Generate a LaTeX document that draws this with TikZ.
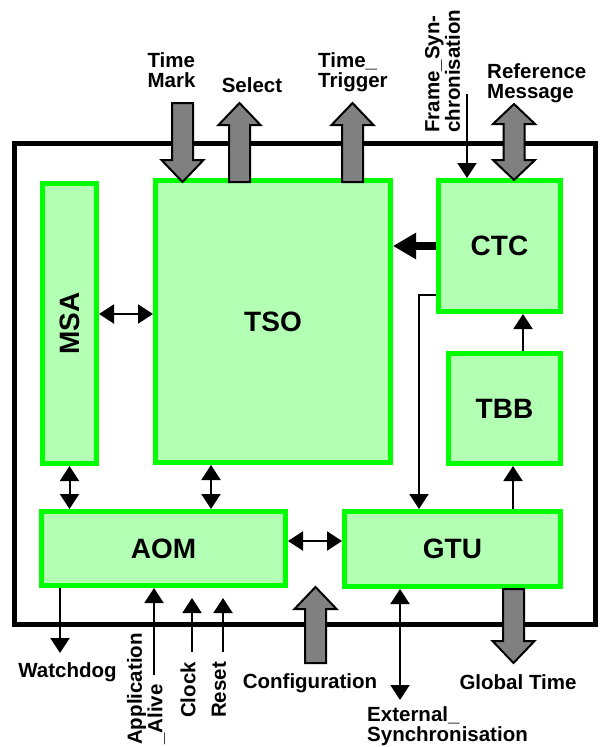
\documentclass[tikz,border=0pt]{standalone}
\usepackage{fontspec}
\setmainfont{Liberation Sans}
\usepackage{tikz}
\usetikzlibrary{positioning, arrows.meta, calc}
\definecolor{unitgreen}{RGB}{0,255,0}
\definecolor{unitfill}{RGB}{179,255,179}
\definecolor{busgray}{RGB}{128,128,128}

\begin{document}
\begin{tikzpicture}[
    x=1pt, y=-1pt,
    block/.style={draw=unitgreen, fill=unitfill, line width=5pt, inner sep=0pt},
    blocklbl/.style={font=\fontsize{28}{30}\selectfont\bfseries, inner sep=0pt},
    sig/.style={font=\fontsize{20.5}{20.5}\selectfont\bfseries, inner sep=0pt},
    link/.style={line width=2pt, -{Triangle[length=15pt, width=19pt]}},
    dlink/.style={line width=2pt, {Triangle[length=15pt, width=19pt]}-{Triangle[length=15pt, width=19pt]}},
    biglink/.style={line width=8pt, -{Triangle[length=23pt, width=25pt]}},
    bus/.style={draw=black, fill=busgray, line width=2pt},
    busup/.pic={\path[bus] (0,0) -- (21,22) -- (10.5,22) -- (10.5,#1) -- (-10.5,#1) -- (-10.5,22) -- (-21,22) -- cycle;},
    busdown/.pic={\path[bus] (0,0) -- (21,-22) -- (10.5,-22) -- (10.5,-#1) -- (-10.5,-#1) -- (-10.5,-22) -- (-21,-22) -- cycle;},
    busboth/.pic={\path[bus] (0,0) -- (21,20) -- (10.5,20) -- (10.5,56) -- (21,56) -- (0,76) -- (-21,56) -- (-10.5,56) -- (-10.5,20) -- (-21,20) -- cycle;},
]
\useasboundingbox (0,0) rectangle (600,747);

% Outer frame
\draw[line width=5pt] (14.5,143) rectangle (595,624);

% Units
\node[block, minimum width=54pt, minimum height=280pt] (msa) at (69.5,323.5) {};
\node[blocklbl, rotate=90] (msalbl) at (msa) {MSA};
\node[block, minimum width=235pt, minimum height=282pt] (tso) at (273,321.5) {};
\node[blocklbl] (tsolbl) at (tso) {TSO};
\node[block, minimum width=122pt, minimum height=131pt] (ctc) at (499.5,246) {};
\node[blocklbl] (ctclbl) at (ctc) {CTC};
\node[block, minimum width=112pt, minimum height=110pt] (tbb) at (504.5,408.5) {};
\node[blocklbl] (tbblbl) at (tbb) {TBB};
\node[block, minimum width=244pt, minimum height=74pt] (aom) at (163.5,548.5) {};
\node[blocklbl] (aomlbl) at (aom) {AOM};
\node[block, minimum width=216pt, minimum height=75pt] (gtu) at (452.5,549) {};
\node[blocklbl] (gtulbl) at (gtu) {GTU};

% Internal links
\draw[dlink] (msa.east |- 0,314) -- (tso.west |- 0,314);
\draw[dlink] (msa.south) -- (msa.south |- aom.north);
\draw[dlink] (tso.south -| 211,0) -- (aom.north -| 211,0);
\draw[dlink] (aom.east |- 0,541) -- (gtu.west |- 0,541);
\draw[biglink] (ctc.west) -- (ctc.west -| tso.east);
\draw[link] (ctc.west |- 0,295) -| (gtu.north -| 419,0);
\draw[link] (tbb.north -| 523,0) -- (ctc.south -| 523,0);
\draw[link] (gtu.north -| 513,0) -- (tbb.south -| 513,0);

% Top signals
\pic at (182.5,182) {busdown=79};
\node[sig, align=left] (tmark) at (171.5,70) {Time\\Mark};
\pic at (239.5,103) {busup=79};
\node[sig] (sel) at (252,85) {Select};
\pic at (352.5,103) {busup=79};
\node[sig, align=left, anchor=west] (ttrig) at (318,72) {Time\_\\Trigger};
\node[sig, rotate=90, align=left, anchor=west] (frsync) at (442.5,133) {Frame\_Syn-\\chronisation};
\coordinate (frsyncin) at (467,94);
\draw[link] (frsyncin) -- (ctc.north -| frsyncin);
\pic at (514,104) {busboth};
\node[sig, align=left, anchor=west] (refmsg) at (487,83) {Reference\\Message};

% Bottom signals
\coordinate (wdout) at (60,653);
\draw[link] (aom.south -| wdout) -- (wdout);
\node[sig] (wd) at (67.5,672) {Watchdog};
\coordinate (alivein) at (154,675);
\draw[link] (alivein) -- (aom.south -| alivein);
\node[sig, rotate=90, align=left, anchor=west] (alive) at (146,745) {Application\\\_Alive};
\coordinate (clkin) at (192,652);
\coordinate (clkend) at (192,598);
\draw[link] (clkin) -- (clkend);
\node[sig, rotate=90, anchor=west] (clk) at (188,718) {Clock};
\coordinate (rstin) at (223,652);
\coordinate (rstend) at (223,598);
\draw[link] (rstin) -- (rstend);
\node[sig, rotate=90, anchor=west] (rst) at (219,718) {Reset};
\pic at (315.5,587) {busup=76};
\node[sig] (cfg) at (310,683) {Configuration};
\coordinate (extout) at (400,700);
\draw[dlink] (gtu.south -| extout) -- (extout);
\node[sig, align=left, anchor=west] (ext) at (367,726) {External\_\\Synchronisation};
\pic at (513.5,663) {busdown=74};
\node[sig] (gt) at (518,682) {Global Time};

\end{tikzpicture}
\end{document}
